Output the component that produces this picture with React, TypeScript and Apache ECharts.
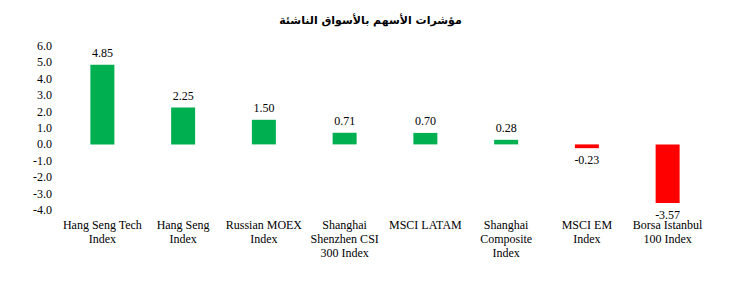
import React, { useEffect, useRef } from "react";
import * as echarts from "echarts";

const categories = [
  "Hang Seng Tech\nIndex",
  "Hang Seng\nIndex",
  "Russian MOEX\nIndex",
  "Shanghai\nShenzhen CSI\n300 Index",
  "MSCI LATAM",
  "Shanghai\nComposite\nIndex",
  "MSCI EM\nIndex",
  "Borsa Istanbul\n100 Index",
];
const values = [4.85, 2.25, 1.5, 0.71, 0.7, 0.28, -0.23, -3.57];
const title = "مؤشرات الأسهم بالأسواق الناشئة";
const yMin = -4;
const yMax = 6;
const yInterval = 1;

export default function App() {
  const ref = useRef<HTMLDivElement>(null);
  useEffect(() => {
    if (!ref.current) return;
    const chart = echarts.init(ref.current, null, { renderer: "svg" });
    const font = "'Liberation Serif', 'Times New Roman', serif";
    chart.setOption({
      animation: false,
      backgroundColor: "#ffffff",
      title: {
        text: title,
        left: "center",
        top: 10,
        textStyle: { fontSize: 11, fontWeight: "bold", color: "#000", fontFamily: "'DejaVu Sans', 'Noto Sans', sans-serif" },
      },
      grid: { left: 62, right: 33, top: 46, bottom: 75 },
      xAxis: {
        type: "category",
        data: categories,
        axisLine: { show: false, onZero: false },
        axisTick: { show: false },
        axisLabel: {
          interval: 0,
          color: "#000",
          fontFamily: font,
          fontSize: 12,
          lineHeight: 14,
          margin: 8,
        },
      },
      yAxis: {
        type: "value",
        min: yMin,
        max: yMax,
        interval: yInterval,
        splitLine: { show: false },
        axisLine: { show: false },
        axisTick: { show: false },
        axisLabel: {
          color: "#000",
          fontFamily: font,
          fontSize: 12,
          margin: 10,
          formatter: (v: number) => v.toFixed(1),
        },
      },
      series: [
        {
          type: "bar",
          barWidth: 24,
          data: values.map((v) => ({
            value: v,
            itemStyle: { color: v >= 0 ? "#00B050" : "#FF0000" },
            label: { position: v >= 0 ? "top" : "bottom" },
          })),
          label: {
            show: true,
            color: "#000",
            fontFamily: font,
            fontSize: 12,
            distance: 6,
            formatter: (p: any) => Number(p.value).toFixed(2),
          },
        },
      ],
    });
    return () => chart.dispose();
  }, []);
  return (
    <div
      ref={ref}
      style={{ position: "absolute", left: 0, top: 0, width: 741, height: 285 }}
    />
  );
}
